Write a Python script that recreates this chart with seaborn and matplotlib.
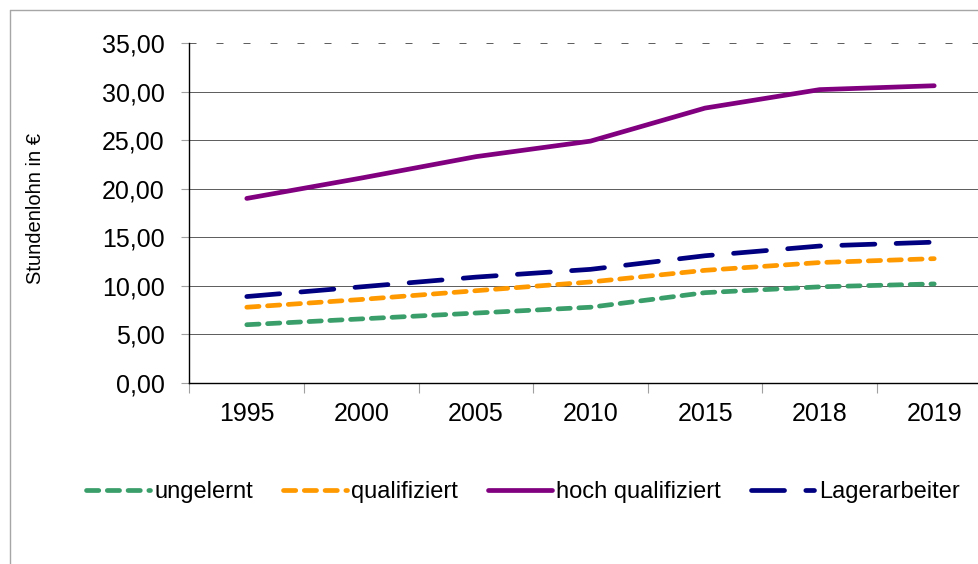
import matplotlib
matplotlib.use("Agg")
import matplotlib.pyplot as plt
import matplotlib.lines as mlines
from matplotlib.ticker import FixedLocator, FuncFormatter
import pandas as pd
import seaborn as sns

# ── Data ─────────────────────────────────────────────────────────────────────
YEARS = ["1995", "2000", "2005", "2010", "2015", "2018", "2019"]
UNGELERNT = [6.0, 6.6, 7.2, 7.8, 9.3, 9.9, 10.2]
QUALIFIZIERT = [7.8, 8.6, 9.5, 10.4, 11.6, 12.4, 12.8]
HOCH_QUALIFIZIERT = [19.0, 21.1, 23.3, 24.9, 28.3, 30.2, 30.6]
LAGERARBEITER = [8.9, 9.9, 10.9, 11.7, 13.1, 14.1, 14.5]

SERIES = [
    ("ungelernt", UNGELERNT, "#3a9e6a", (0, (2.6, 1.8))),
    ("qualifiziert", QUALIFIZIERT, "#ff9900", (0, (2.6, 1.8))),
    ("hoch qualifiziert", HOCH_QUALIFIZIERT, "#800080", "-"),
    ("Lagerarbeiter", LAGERARBEITER, "#000080", (0, (7, 4.5))),
]

# ── Style ────────────────────────────────────────────────────────────────────
sns.set_style("white")
plt.rcParams["font.family"] = ["Liberation Sans", "DejaVu Sans"]
plt.rcParams.update({
    "text.color": "black",
    "xtick.labelcolor": "black",
    "ytick.labelcolor": "black",
})

fig = plt.figure(figsize=(9.79, 5.64), dpi=100)
ax = fig.add_axes([189.5 / 979, 1 - 383 / 564, 802 / 979, 340 / 564])

for name, vals, color, ls in SERIES:
    df = pd.DataFrame({"Jahr": YEARS, "Lohn": vals})
    sns.lineplot(data=df, x="Jahr", y="Lohn", ax=ax, color=color, lw=3.4,
                 linestyle=ls, label=name, dash_capstyle="round",
                 solid_capstyle="round", sort=False)

# y axis
ax.set_ylim(0, 35)
ax.yaxis.set_major_locator(FixedLocator(range(0, 36, 5)))
ax.yaxis.set_major_formatter(FuncFormatter(lambda v, _: f"{v:.2f}".replace(".", ",")))
ax.yaxis.grid(True, color="#606060", lw=0.72)
ax.get_ygridlines()[-1].set_linestyle((0, (7, 20)))
ax.tick_params(axis="y", which="major", direction="out", length=6, width=0.8,
               color="#a0a0a0", labelsize=18, pad=12, left=True,
               labelcolor="black")

# x axis: categories, tick marks between them
ax.set_xlim(-0.5, len(YEARS) - 0.5)
ax.xaxis.set_minor_locator(FixedLocator([i - 0.5 for i in range(len(YEARS))]))
ax.tick_params(axis="x", which="major", length=0, labelsize=18, pad=14,
               labelcolor="black")
ax.tick_params(axis="x", which="minor", direction="out", length=7, width=0.8,
               color="#a0a0a0", bottom=True)
ax.set_xlabel("")
ax.set_ylabel("")

for side in ["top", "right"]:
    ax.spines[side].set_visible(False)
for side in ["left", "bottom"]:
    ax.spines[side].set_color("black")
    ax.spines[side].set_linewidth(1.0)

fig.text(36 / 979, 1 - 208 / 564, "Stundenlohn in €", rotation=90,
         ha="center", va="center", fontsize=14.5, color="black")

# legend below the plot
handles, labels = ax.get_legend_handles_labels()
ax.get_legend().remove()
fig.legend(handles, labels, loc="center", ncol=4, frameon=False,
           bbox_to_anchor=(523 / 979, 1 - 492 / 564), fontsize=17,
           handlelength=2.7, handletextpad=0.2, columnspacing=1.25,
           labelcolor="black")

# outer chart frame (only left and top edges visible)
fig.add_artist(mlines.Line2D([9.5 / 979, 9.5 / 979], [0, 1 - 9.5 / 564],
                             color="#a6a6a6", lw=1.0))
fig.add_artist(mlines.Line2D([9.5 / 979, 1], [1 - 9.5 / 564, 1 - 9.5 / 564],
                             color="#a6a6a6", lw=1.0))

fig.savefig("out.png", dpi=100)
